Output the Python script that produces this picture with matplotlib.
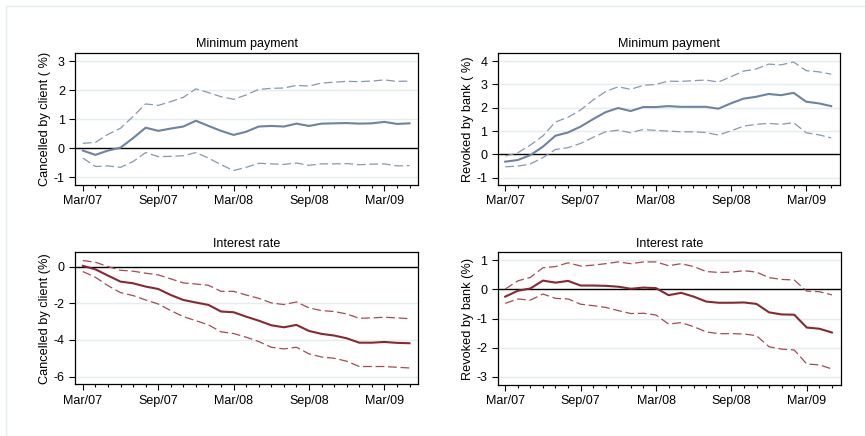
import matplotlib
matplotlib.use("Agg")
import matplotlib.pyplot as plt
from matplotlib.patches import Rectangle
from matplotlib.ticker import FixedLocator, MultipleLocator

plt.rcParams['font.family'] = ['Liberation Sans', 'DejaVu Sans']

months = ["Mar/07", "Apr/07", "May/07", "Jun/07", "Jul/07", "Aug/07", "Sep/07", "Oct/07",
          "Nov/07", "Dec/07", "Jan/08", "Feb/08", "Mar/08", "Apr/08", "May/08", "Jun/08",
          "Jul/08", "Aug/08", "Sep/08", "Oct/08", "Nov/08", "Dec/08", "Jan/09", "Feb/09",
          "Mar/09", "Apr/09", "May/09"]
tick_labels = ["Mar/07", "Sep/07", "Mar/08", "Sep/08", "Mar/09"]

# Panel 1: Cancelled by client, Minimum payment
client_min_est = [-0.08, -0.23, -0.08, 0.02, 0.35, 0.71, 0.60, 0.68, 0.75, 0.95, 0.77, 0.60, 0.46,
                  0.57, 0.75, 0.77, 0.75, 0.85, 0.77, 0.85, 0.86, 0.87, 0.85, 0.86, 0.91, 0.84, 0.86]
client_min_hi = [0.17, 0.20, 0.48, 0.69, 1.10, 1.53, 1.48, 1.61, 1.76, 2.05, 1.92, 1.78, 1.69,
                 1.84, 2.03, 2.07, 2.08, 2.17, 2.15, 2.25, 2.28, 2.31, 2.30, 2.32, 2.36, 2.31, 2.32]
client_min_lo = [-0.34, -0.63, -0.61, -0.66, -0.46, -0.15, -0.29, -0.28, -0.26, -0.15, -0.34, -0.57, -0.77,
                 -0.66, -0.52, -0.54, -0.56, -0.51, -0.59, -0.54, -0.54, -0.53, -0.57, -0.55, -0.54, -0.61, -0.60]

# Panel 2: Revoked by bank, Minimum payment
bank_min_est = [-0.31, -0.24, -0.03, 0.33, 0.80, 0.94, 1.19, 1.51, 1.81, 1.99, 1.86, 2.03, 2.03,
                2.07, 2.04, 2.04, 2.04, 1.96, 2.19, 2.39, 2.47, 2.59, 2.54, 2.64, 2.26, 2.19, 2.07]
bank_min_hi = [-0.07, 0.07, 0.40, 0.79, 1.39, 1.59, 1.90, 2.33, 2.69, 2.90, 2.79, 2.96, 3.00,
               3.14, 3.13, 3.16, 3.19, 3.10, 3.33, 3.57, 3.66, 3.87, 3.84, 3.96, 3.59, 3.54, 3.44]
bank_min_lo = [-0.53, -0.50, -0.41, -0.14, 0.21, 0.29, 0.47, 0.73, 0.97, 1.04, 0.93, 1.07, 1.03,
               1.00, 0.97, 0.97, 0.94, 0.83, 1.01, 1.21, 1.29, 1.33, 1.29, 1.36, 0.93, 0.84, 0.71]

# Panel 3: Cancelled by client, Interest rate
client_int_est = [0.04, -0.15, -0.49, -0.82, -0.91, -1.09, -1.22, -1.55, -1.82, -1.96, -2.09, -2.45, -2.49,
                  -2.73, -2.95, -3.20, -3.31, -3.18, -3.51, -3.67, -3.76, -3.91, -4.15, -4.15, -4.11, -4.16, -4.18]
client_int_hi = [0.33, 0.24, 0.00, -0.20, -0.25, -0.36, -0.45, -0.67, -0.89, -0.95, -1.02, -1.35, -1.35,
                 -1.55, -1.73, -1.98, -2.07, -1.93, -2.25, -2.40, -2.45, -2.58, -2.82, -2.80, -2.76, -2.80, -2.84]
client_int_lo = [-0.27, -0.58, -1.04, -1.42, -1.58, -1.82, -2.04, -2.40, -2.73, -2.95, -3.18, -3.56, -3.65,
                 -3.85, -4.09, -4.40, -4.49, -4.40, -4.76, -4.93, -5.00, -5.16, -5.45, -5.45, -5.45, -5.49, -5.53]

# Panel 4: Revoked by bank, Interest rate
bank_int_est = [-0.25, -0.05, 0.03, 0.30, 0.23, 0.29, 0.13, 0.13, 0.12, 0.09, 0.02, 0.06, 0.04,
                -0.20, -0.12, -0.25, -0.42, -0.46, -0.46, -0.45, -0.50, -0.79, -0.86, -0.87, -1.31, -1.35, -1.48]
bank_int_hi = [0.01, 0.29, 0.41, 0.74, 0.78, 0.91, 0.80, 0.83, 0.88, 0.94, 0.88, 0.94, 0.94,
               0.81, 0.88, 0.78, 0.61, 0.58, 0.59, 0.64, 0.59, 0.40, 0.34, 0.32, -0.06, -0.08, -0.19]
bank_int_lo = [-0.48, -0.33, -0.37, -0.16, -0.31, -0.33, -0.51, -0.56, -0.62, -0.73, -0.83, -0.82, -0.88,
               -1.19, -1.14, -1.28, -1.46, -1.52, -1.52, -1.53, -1.59, -1.97, -2.05, -2.08, -2.56, -2.59, -2.73]

BLUE = "#6c84a2"
BLUE_D = "#8599b2"
RED = "#8a2832"
RED_D = "#a64a53"
GRID = "#e4eeef"

fig = plt.figure(figsize=(8.65, 4.36), dpi=100)
fig.patch.set_facecolor("white")
fig.patches.append(Rectangle((6 / 865, -0.05), 1.1, 1 - 6 / 436 + 0.05, transform=fig.transFigure,
                             fill=False, edgecolor="#e3ecee", linewidth=1.0, zorder=0))

W, H = 865, 436
def pos(l, r, t, b):
    return [l / W, 1 - b / H, (r - l) / W, (b - t) / H]

panels = [
    (pos(75.3, 418.3, 52.7, 185.0), "Minimum payment", "Cancelled by client ( %)",
     client_min_est, client_min_hi, client_min_lo, BLUE, BLUE_D, (-1.27, 3.3), [-1, 0, 1, 2, 3]),
    (pos(497.7, 840.0, 52.7, 185.0), "Minimum payment", "Revoked by bank ( %)",
     bank_min_est, bank_min_hi, bank_min_lo, BLUE, BLUE_D, (-1.31, 4.36), [-1, 0, 1, 2, 3, 4]),
    (pos(75.3, 418.3, 252.3, 384.3), "Interest rate", "Cancelled by client (%)",
     client_int_est, client_int_hi, client_int_lo, RED, RED_D, (-6.42, 0.78), [-6, -4, -2, 0]),
    (pos(497.7, 840.7, 252.3, 385.0), "Interest rate", "Revoked by bank (%)",
     bank_int_est, bank_int_hi, bank_int_lo, RED, RED_D, (-3.28, 1.27), [-3, -2, -1, 0, 1]),
]

x = list(range(len(months)))
major_idx = [months.index(m) for m in tick_labels]

for rect, title, ylabel, est, hi, lo, col, dcol, ylim, yticks in panels:
    ax = fig.add_axes(rect)
    for yt in yticks:
        if yt != 0:
            ax.axhline(yt, color=GRID, lw=1.0, zorder=0)
    ax.axhline(0, color="black", lw=1.0, zorder=1)
    ax.plot(x, hi, color=dcol, lw=0.9, dashes=(7, 3), zorder=2)
    ax.plot(x, lo, color=dcol, lw=0.9, dashes=(7, 3), zorder=2)
    ax.plot(x, est, color=col, lw=1.5, zorder=3)
    ax.set_xlim(-0.6, 26.7)
    ax.set_ylim(*ylim)
    ax.set_yticks(yticks)
    ax.set_yticklabels([str(v) for v in yticks])
    ax.xaxis.set_major_locator(FixedLocator(major_idx))
    ax.set_xticklabels(tick_labels)
    ax.xaxis.set_minor_locator(MultipleLocator(1))
    ax.tick_params(axis="both", which="major", direction="out", length=4.5, width=0.8,
                   labelsize=9, pad=3, color="black")
    ax.tick_params(axis="x", which="minor", direction="out", length=2.5, width=0.8)
    ax.set_title(title, fontsize=9, pad=4)
    ax.set_ylabel(ylabel, fontsize=9.2, labelpad=2)
    for sp in ax.spines.values():
        sp.set_linewidth(0.9)
        sp.set_color("black")

fig.savefig("out.png", dpi=100, facecolor="white")
